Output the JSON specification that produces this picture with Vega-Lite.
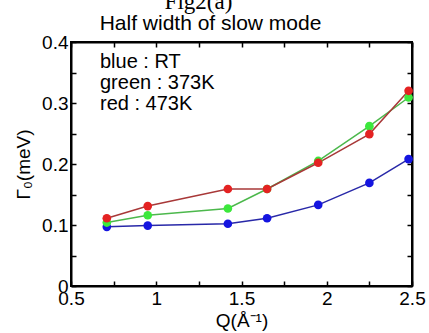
{
  "$schema": "https://vega.github.io/schema/vega-lite/v6.json",
  "width": 341,
  "height": 244,
  "autosize": {"type": "none"},
  "padding": {"left": 71, "top": 42, "right": 17, "bottom": 47},
  "background": "white",
  "config": {
    "font": "Liberation Sans",
    "view": {"stroke": "black", "strokeWidth": 2},
    "axis": {
      "grid": false,
      "labelFont": "Liberation Sans",
      "labelFontSize": 19,
      "labelColor": "black",
      "titleFont": "Liberation Sans",
      "titleFontSize": 19,
      "titleFontWeight": "normal",
      "titleColor": "black",
      "domainColor": "black",
      "domainWidth": 2,
      "tickColor": "black",
      "tickWidth": 1.5,
      "tickSize": -5,
      "labelOverlap": false,
      "labelFlush": false
    }
  },
  "title": {
    "text": "Fig2(a)",
    "font": "Liberation Serif",
    "fontSize": 23,
    "fontWeight": "normal",
    "color": "black",
    "anchor": "start",
    "dx": 150,
    "dy": 6
  },
  "data": {
    "values": [
      {"Q": 0.71, "G": 0.097, "series": "blue : RT"},
      {"Q": 0.95, "G": 0.099, "series": "blue : RT"},
      {"Q": 1.42, "G": 0.102, "series": "blue : RT"},
      {"Q": 1.65, "G": 0.111, "series": "blue : RT"},
      {"Q": 1.95, "G": 0.133, "series": "blue : RT"},
      {"Q": 2.25, "G": 0.169, "series": "blue : RT"},
      {"Q": 2.48, "G": 0.208, "series": "blue : RT"},
      {"Q": 0.71, "G": 0.104, "series": "green : 373K"},
      {"Q": 0.95, "G": 0.116, "series": "green : 373K"},
      {"Q": 1.42, "G": 0.127, "series": "green : 373K"},
      {"Q": 1.65, "G": 0.159, "series": "green : 373K"},
      {"Q": 1.95, "G": 0.205, "series": "green : 373K"},
      {"Q": 2.25, "G": 0.262, "series": "green : 373K"},
      {"Q": 2.48, "G": 0.309, "series": "green : 373K"},
      {"Q": 0.71, "G": 0.111, "series": "red : 473K"},
      {"Q": 0.95, "G": 0.131, "series": "red : 473K"},
      {"Q": 1.42, "G": 0.159, "series": "red : 473K"},
      {"Q": 1.65, "G": 0.159, "series": "red : 473K"},
      {"Q": 1.95, "G": 0.202, "series": "red : 473K"},
      {"Q": 2.25, "G": 0.249, "series": "red : 473K"},
      {"Q": 2.48, "G": 0.320, "series": "red : 473K"}
    ]
  },
  "layer": [
    {
      "mark": {"type": "line", "strokeWidth": 1.5},
      "encoding": {
        "x": {
          "field": "Q", "type": "quantitative",
          "scale": {"domain": [0.5, 2.5], "nice": false, "zero": false},
          "axis": {
            "orient": "bottom",
            "title": "Q(Å⁻¹)",
            "values": [0.5, 0.75, 1, 1.25, 1.5, 1.75, 2, 2.25, 2.5],
            "format": "~g",
            "labelExpr": "abs(datum.value*2 - round(datum.value*2)) < 0.01 ? datum.label : ''",
            "labelPadding": 8,
            "titlePadding": 3
          }
        },
        "y": {
          "field": "G", "type": "quantitative",
          "scale": {"domain": [0, 0.4], "nice": false},
          "axis": {
            "orient": "left",
            "title": "Γ₀(meV)",
            "values": [0, 0.05, 0.1, 0.15, 0.2, 0.25, 0.3, 0.35, 0.4],
            "format": "~g",
            "labelExpr": "abs(datum.value*10 - round(datum.value*10)) < 0.01 ? datum.label : ''",
            "labelPadding": 8,
            "titlePadding": 8
          }
        },
        "stroke": {
          "field": "series", "type": "nominal",
          "scale": {"domain": ["blue : RT", "green : 373K", "red : 473K"], "range": ["#2828a8", "#4cb84c", "#a83838"]},
          "legend": {
            "title": null,
            "orient": "none",
            "legendX": 9,
            "legendY": 10,
            "padding": 0,
            "symbolSize": 0,
            "symbolOpacity": 0,
            "symbolStrokeWidth": 0,
            "labelOffset": 0,
            "labelFont": "Liberation Sans",
            "labelFontSize": 20,
            "labelColor": "black",
            "rowPadding": 1
          }
        }
      }
    },
    {
      "mark": {"type": "circle", "size": 75, "opacity": 1},
      "encoding": {
        "x": {
          "field": "Q", "type": "quantitative",
          "scale": {"domain": [0.5, 2.5], "nice": false, "zero": false},
          "axis": {
            "orient": "top",
            "title": "Half width of slow mode",
            "titleFontSize": 21,
            "titleX": 139,
            "titleY": -13,
            "titleBaseline": "alphabetic",
            "values": [0.5, 0.75, 1, 1.25, 1.5, 1.75, 2, 2.25, 2.5],
            "labels": false
          }
        },
        "y": {
          "field": "G", "type": "quantitative",
          "scale": {"domain": [0, 0.4], "nice": false},
          "axis": {
            "orient": "right",
            "title": null,
            "values": [0, 0.05, 0.1, 0.15, 0.2, 0.25, 0.3, 0.35, 0.4],
            "labels": false
          }
        },
        "fill": {
          "field": "series", "type": "nominal",
          "scale": {"domain": ["blue : RT", "green : 373K", "red : 473K"], "range": ["#1414e0", "#3ce83c", "#e42222"]},
          "legend": null
        }
      }
    }
  ],
  "resolve": {"axis": {"x": "independent", "y": "independent"}}
}
